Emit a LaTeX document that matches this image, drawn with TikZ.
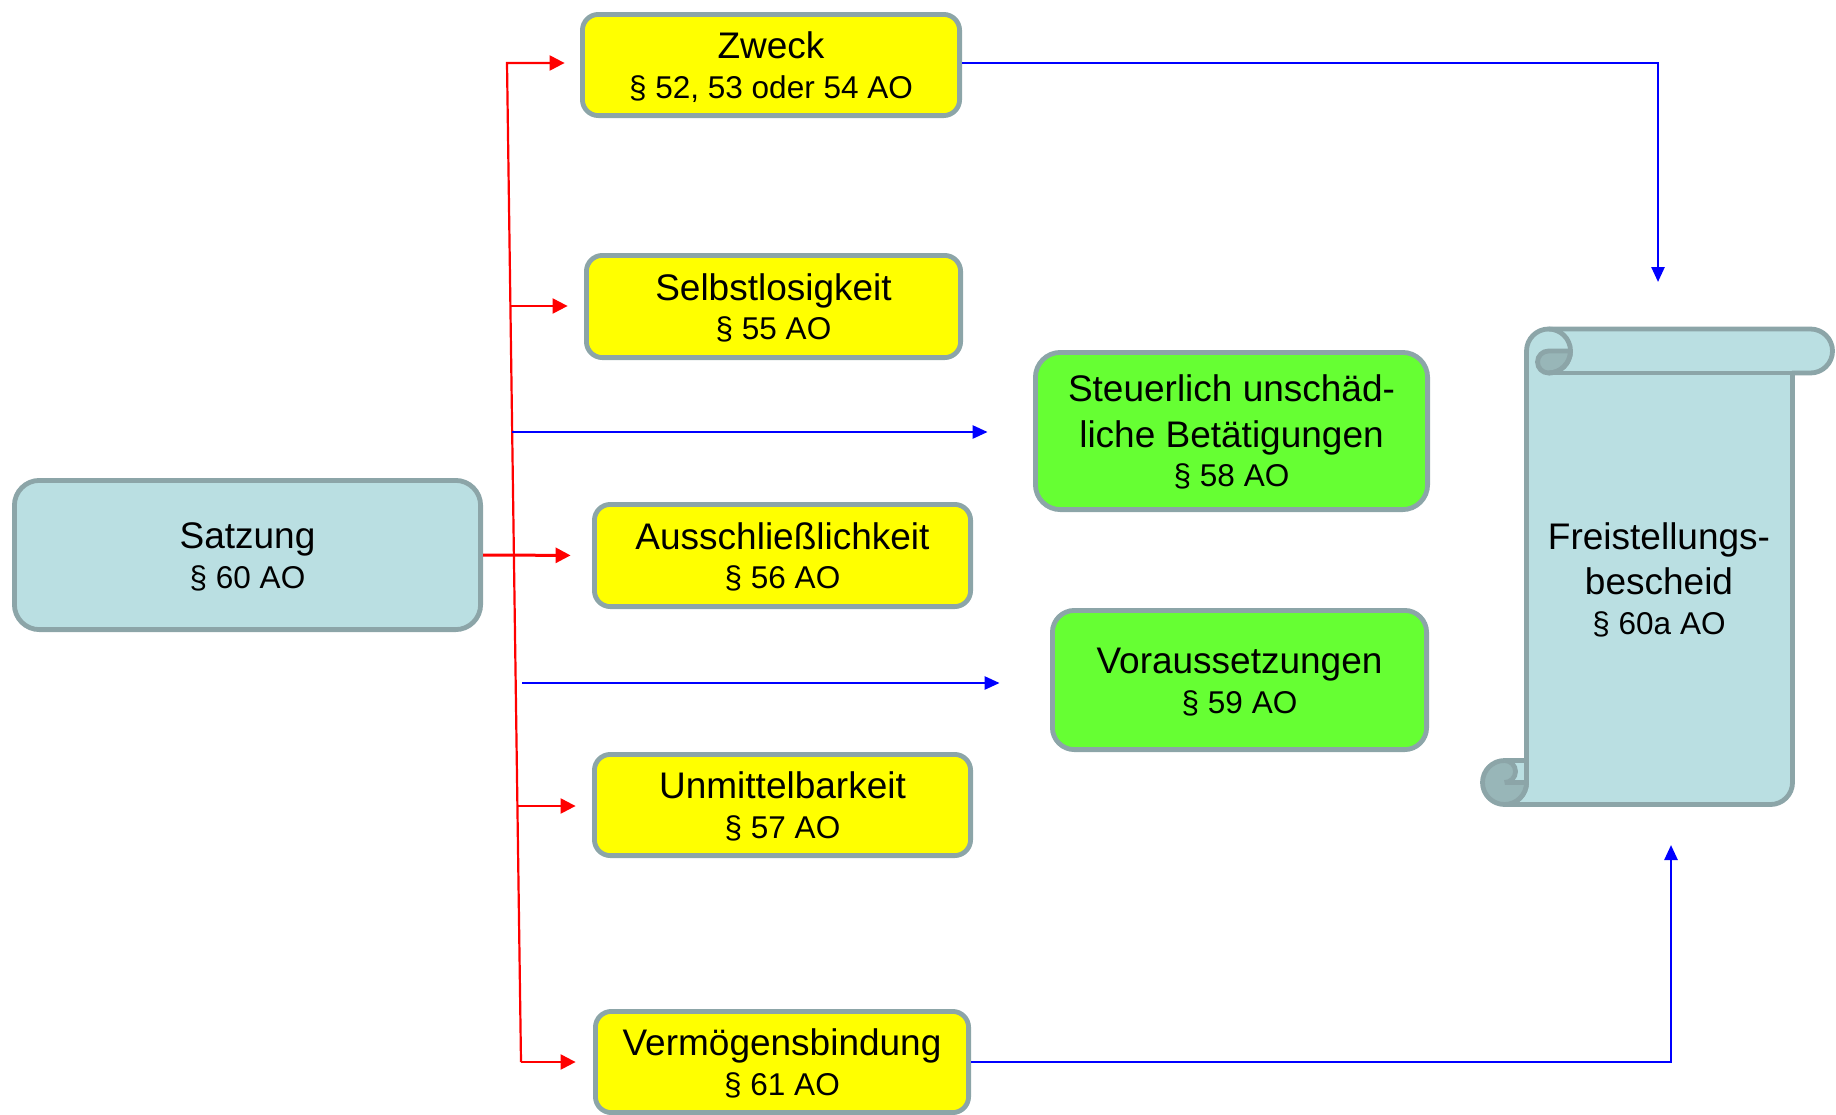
\documentclass[tikz,border=0pt]{standalone}
\usepackage{fontspec}
\setmainfont{Liberation Sans}
\usetikzlibrary{arrows.meta}
\definecolor{boxline}{RGB}{140,165,168}
\definecolor{scrollfill}{RGB}{186,223,226}
\definecolor{curlfill}{RGB}{152,182,184}
\definecolor{ylw}{RGB}{255,255,0}
\definecolor{grn}{RGB}{102,255,51}
\newcommand{\bigtxt}{\fontsize{18.5}{19.75}\selectfont}
\newcommand{\smalltxt}{\fontsize{15.75}{19.75}\selectfont}
\tikzset{
  box/.style={draw=boxline, line width=2.4pt, rounded corners=#1, inner sep=0pt,
    align=center, font=\bigtxt, text height=33pt, text depth=0pt},
  box/.default=8pt,
  threelines/.style={text height=55.75pt},
  lbl/.style={align=center, inner sep=0pt, font=\bigtxt, text height=55.75pt, text depth=0pt},
  redline/.style={draw=red, line width=1.1pt},
  redarrow/.style={redline, -{Triangle[length=7.5pt,width=7.5pt]}},
  bluearrow/.style={draw=blue, line width=1.3pt, -{Triangle[length=7.5pt,width=6.5pt]}},
  scrollline/.style={draw=boxline, line width=2.4pt, line join=round}
}
\begin{document}
\begin{tikzpicture}[x=0.5pt,y=-0.5pt]
\useasboundingbox (0,0) rectangle (1836,1114);

% ---- scroll (Freistellungsbescheid) ----
\filldraw[scrollline, fill=scrollfill]
  (1504.5,804.5) arc[start angle=90, end angle=0, radius=22]
  -- (1526.5,351) arc[start angle=180, end angle=270, radius=22]
  -- (1810.5,329) arc[start angle=270, end angle=450, radius=22]
  -- (1792.5,373) -- (1792.5,782.5) arc[start angle=0, end angle=90, radius=22]
  -- cycle;
\draw[scrollline] (1548.5,373) -- (1792.5,373);
\filldraw[scrollline, fill=curlfill]
  (1548.5,351) -- (1570.5,351) arc[start angle=0, end angle=90, radius=22]
  arc[start angle=90, end angle=270, radius=11] -- cycle;
\draw[scrollline] (1548.5,329) arc[start angle=270, end angle=450, radius=22];
% bottom curl
\filldraw[scrollline, fill=curlfill] (1504.5,782.5) circle[radius=22];
\fill[scrollfill] (1504.5,760.5) rectangle (1526.5,782.5);
\fill[curlfill] (1504.5,760.5) arc[start angle=270, end angle=450, radius=11] -- cycle;
\draw[scrollline] (1504.5,760.5) -- (1526.5,760.5) -- (1526.5,782.5) -- (1504.5,782.5);
\draw[scrollline] (1504.5,760.5) arc[start angle=270, end angle=450, radius=11];
\node[lbl] (freist) at (1659,578.5) {Freistellungs-\\[3pt]bescheid\\\smalltxt § 60a AO};

% ---- boxes ----
\node[box=12.5pt, fill=scrollfill, minimum width=233.1pt, minimum height=74.6pt]
  (satzung) at (247.5,555) {Satzung\\\smalltxt § 60 AO};
\node[box, fill=ylw, minimum width=188.6pt, minimum height=50.6pt]
  (zweck) at (771,65) {Zweck\\\smalltxt § 52, 53 oder 54 AO};
\node[box, fill=ylw, minimum width=187.1pt, minimum height=51.1pt]
  (selbst) at (773.5,306.5) {Selbstlosigkeit\\\smalltxt § 55 AO};
\node[box, fill=ylw, minimum width=188.1pt, minimum height=51.1pt]
  (aus) at (782.5,555.5) {Ausschließlichkeit\\\smalltxt § 56 AO};
\node[box, fill=ylw, minimum width=188.1pt, minimum height=50.6pt]
  (unm) at (782.5,805) {Unmittelbarkeit\\\smalltxt § 57 AO};
\node[box, fill=ylw, minimum width=186.6pt, minimum height=50.6pt]
  (verm) at (782,1062) {Vermögensbindung\\\smalltxt § 61 AO};
\node[box=12.5pt, threelines, fill=grn, minimum width=196.1pt, minimum height=78.6pt]
  (steuer) at (1231.5,431) {Steuerlich unschäd-\\[3pt]liche Betätigungen\\\smalltxt § 58 AO};
\node[box=11pt, fill=grn, minimum width=187.1pt, minimum height=69.6pt]
  (vor) at (1239.5,680) {Voraussetzungen\\\smalltxt § 59 AO};

% ---- connector points ----
\coordinate (rtop) at (507,63);
\coordinate (rbot) at (521,1062);
\coordinate (b2) at (510.4,306);
\coordinate (b4) at (517.4,806);
\coordinate (u1) at (512,432);
\coordinate (u2) at (522,683);
\coordinate (scrollin) at (1658,282);
\coordinate (scrollout) at (1671,845);

% ---- red connectors ----
\draw[redarrow, shorten >=7.7pt] (rbot) -- (rtop) -- (rtop -| zweck.west);
\draw[redarrow, shorten >=8.2pt] (b2) -- (b2 -| selbst.west);
\draw[redarrow, line width=1.5pt, shorten >=10.7pt] (satzung.east) -- (aus.west);
\draw[redarrow, shorten >=8.2pt] (b4) -- (b4 -| unm.west);
\draw[redarrow, shorten >=8.7pt] (rbot) -- (rbot -| verm.west);

% ---- blue connectors ----
\draw[bluearrow, shorten >=22.7pt] (u1) -- (u1 -| steuer.west);
\draw[bluearrow, shorten >=25.2pt] (u2) -- (u2 -| vor.west);
\draw[bluearrow] (zweck.east |- rtop) -| (scrollin);
\draw[bluearrow] (verm.east) -| (scrollout);
\end{tikzpicture}
\end{document}
